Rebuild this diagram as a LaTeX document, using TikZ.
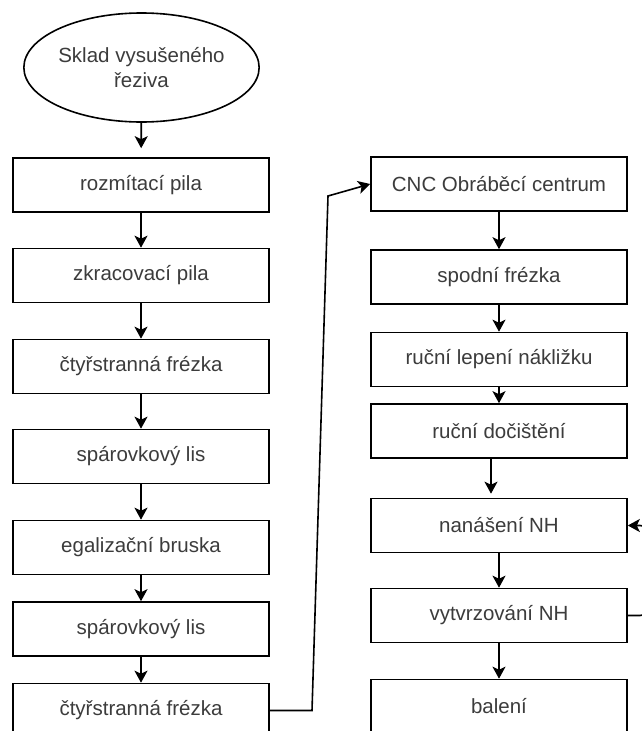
\documentclass[tikz,border=0pt]{standalone}
\usepackage{fontspec}
\setmainfont{Liberation Sans}
\usetikzlibrary{arrows.meta,shapes.geometric}
\definecolor{txt}{RGB}{60,60,60}
\tikzset{
  stepbox/.style={draw=black, line width=1.6pt, fill=white, minimum width=256pt, minimum height=54pt,
    inner sep=0pt, text=txt, font=\fontsize{20.5pt}{25pt}\selectfont},
  startnode/.style={ellipse, draw=black, line width=1.6pt, fill=white, minimum width=207pt, minimum height=109pt,
    inner sep=0pt, text=txt, align=center, font=\fontsize{20.5pt}{25pt}\selectfont},
  flow/.style={line width=1.6pt, -{Stealth[length=12pt,width=13pt,inset=3pt]}},
}
\begin{document}
\begin{tikzpicture}[x=1pt,y=-1pt]
\useasboundingbox (0,0) rectangle (642,731);
\clip (0,0) rectangle (642,731);
\fill[white] (0,0) rectangle (642,731);

% left column
\node[startnode] (s) at (141.5,67.5) {Sklad vysušeného\\řeziva};
\node[stepbox] (l1) at (141,185) {rozmítací pila};
\node[stepbox] (l2) at (141,275.5) {zkracovací pila};
\node[stepbox] (l3) at (141,366.5) {čtyřstranná frézka};
\node[stepbox] (l4) at (141,456.5) {spárovkový lis};
\node[stepbox] (l5) at (141,547.5) {egalizační bruska};
\node[stepbox] (l6) at (141,629) {spárovkový lis};
\node[stepbox] (l7) at (141,710.5) {čtyřstranná frézka};

% right column
\node[stepbox] (r1) at (499,184) {CNC Obráběcí centrum};
\node[stepbox] (r2) at (499,277) {spodní frézka};
\node[stepbox] (r3) at (499,359.5) {ruční lepení nákližku};
\node[stepbox] (r4) at (499,431) {ruční dočištění};
\node[stepbox] (r5) at (499,525.5) {nanášení NH};
\node[stepbox] (r6) at (499,615.5) {vytvrzování NH};
\node[stepbox] (r7) at (499,706.5) {balení};

% left column flow
\draw[flow, shorten >=9pt] (s) -- (l1);
\draw[flow] (l1) -- (l2);
\draw[flow] (l2) -- (l3);
\draw[flow] (l3) -- (l4);
\draw[flow] (l4) -- (l5);
\draw[flow] (l5) -- (l6);
\draw[flow] (l6) -- (l7);

% transfer to the CNC line
\coordinate (t1) at (312,710.5);
\coordinate (t2) at (328,196);
\draw[flow] (l7.east) -- (t1) -- (t2) -- (r1.west);

% right column flow
\draw[flow] (r1) -- (r2);
\draw[flow] (r2) -- (r3);
\draw[flow] (r3) -- (r4);
\draw[flow, shorten >=4pt] (r4.south -| 491,0) -- (r5.north -| 491,0);
\draw[flow] (r5) -- (r6);
\draw[flow] (r6) -- (r7);

% return loop from curing back to coating
\coordinate (b1) at (646,615.5);
\coordinate (b2) at (646,525.5);
\draw[flow, rounded corners=6pt] (r6.east) -- (b1) -- (b2) -- (r5.east);
\end{tikzpicture}
\end{document}
